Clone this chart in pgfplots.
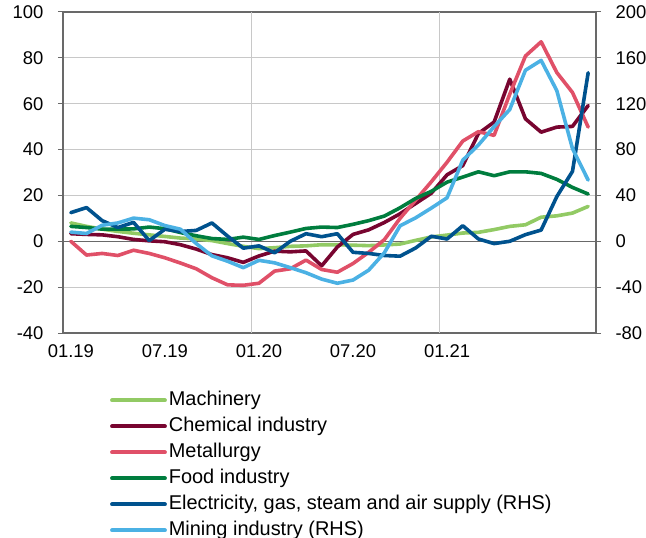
\documentclass[border=0pt]{standalone}
\usepackage{fontspec}
\setmainfont{Liberation Sans}
\usepackage{pgfplots}
\usepackage{pgfplotstable}
\pgfplotsset{compat=1.18}
\definecolor{cMach}{RGB}{146,202,100}
\definecolor{cChem}{RGB}{120,5,48}
\definecolor{cMet}{RGB}{224,80,104}
\definecolor{cFood}{RGB}{0,125,62}
\definecolor{cElec}{RGB}{0,82,142}
\definecolor{cMin}{RGB}{75,177,228}
\definecolor{gridc}{RGB}{200,200,200}
\definecolor{axc}{RGB}{105,105,105}

% left-hand series (x = month index + 0.5, 01.19 = 0.5)
\pgfplotstableread{
x    mach  chem   metal  food
0.5   8.0   3.3    0.0    6.5
1.5   6.5   3.0   -6.0    6.0
2.5   5.3   2.8   -5.3    5.3
3.5   4.3   2.0   -6.2    5.3
4.5   3.5   0.8   -3.9    5.4
5.5   2.8   0.2   -5.3    6.2
6.5   2.1  -0.2   -7.2    5.5
7.5   1.4  -1.5   -9.5    3.8
8.5   1.0  -3.4  -12.0    2.4
9.5   0.3  -5.8  -15.9    1.2
10.5 -1.0  -7.2  -19.0    0.8
11.5 -2.2  -9.2  -19.2    1.8
12.5 -3.2  -6.4  -18.3    0.8
13.5 -2.8  -4.3  -13.0    2.5
14.5 -2.2  -4.6  -12.0    4.0
15.5 -2.0  -4.2   -8.2    5.6
16.5 -1.5 -10.7  -12.3    6.2
17.5 -1.5  -2.5  -13.5    6.0
18.5 -1.7   3.0   -9.7    7.4
19.5 -1.9   5.0   -4.8    9.0
20.5 -1.6   8.2    0.7   11.0
21.5 -1.2  12.0   10.0   14.6
22.5  0.4  16.5   18.0   18.7
23.5  1.9  21.0   26.0   21.8
24.5  2.7  29.0   34.5   25.8
25.5  3.6  33.0   43.7   28.0
26.5  3.9  47.0   47.8   30.3
27.5  5.1  52.0   46.2   28.6
28.5  6.5  70.7   64.2   30.3
29.5  7.2  53.4   80.8   30.3
30.5 10.5  47.6   87.0   29.6
31.5 11.1  49.8   73.6   27.0
32.5 12.3  50.1   64.9   23.5
33.5 15.2  59.2   49.8   20.6
}\leftdata

% right-hand series
\pgfplotstableread{
x    elec   mining
0.5   25.0    8.0
1.5   29.4    6.8
2.5   18.0   14.0
3.5   12.0   16.0
4.5   16.5   20.2
5.5    0.6   18.8
6.5   10.5   13.7
7.5    8.5   10.5
8.5    9.5   -2.0
9.5   16.0  -12.7
10.5   4.5  -17.4
11.5  -6.0  -23.0
12.5  -4.0  -16.6
13.5 -10.0  -18.8
14.5   0.0  -23.0
15.5   6.6  -27.4
16.5   4.0  -33.0
17.5   6.6  -36.6
18.5  -9.6  -33.8
19.5 -10.6  -25.2
20.5 -12.4  -10.0
21.5 -13.0   13.5
22.5  -5.8   20.5
23.5   4.4   29.0
24.5   2.0   38.0
25.5  13.6   70.7
26.5   2.0   84.0
27.5  -2.0  100.0
28.5   0.0  115.0
29.5   5.8  149.2
30.5   9.8  157.8
31.5  39.0  131.4
32.5  61.0   80.8
33.5 147.0   53.4
}\rightdata

\begin{document}
\begin{tikzpicture}
\pgfplotsset{
  every axis/.append style={
    scale only axis, width=533bp, height=321bp,
    xmin=0, xmax=34, at={(0,0)}, anchor=south west,
    axis line style={axc, line width=1.5bp},
    tick align=outside, major tick length=5bp,
    tick label style={font=\fontsize{18.5}{22}\selectfont},
    /pgf/number format/assume math mode=true,
  },
  ser/.style={line width=3.6bp, line join=round, line cap=round},
}
\begin{axis}[
  ymin=-40, ymax=100, ytick={-40,-20,...,100},
  ytick pos=left,
  y tick style={axc, line width=1bp},
  yticklabel style={xshift=-11bp},
  xtick={0.5,6.5,12.5,18.5,24.5},
  xticklabels={01.19,07.19,01.20,07.20,01.21},
  xticklabel style={yshift=-3bp},
  x tick style={draw=none},
  extra x ticks={12,24}, extra x tick labels={},
  extra x tick style={grid=major},
  ymajorgrids,
  grid style={gridc, line width=1bp},
  extra y ticks={0}, extra y tick labels={},
  extra y tick style={grid=major, grid style={axc, line width=1.5bp}},
]
\addplot[ser, cMach] table[x=x, y=mach] {\leftdata};
\addplot[ser, cChem] table[x=x, y=chem] {\leftdata};
\addplot[ser, cMet]  table[x=x, y=metal] {\leftdata};
\addplot[ser, cFood] table[x=x, y=food] {\leftdata};
\end{axis}
\begin{axis}[
  ymin=-80, ymax=200, ytick={-80,-40,...,200},
  axis y line*=right, axis x line=none,
  y tick style={axc, line width=1bp},
  yticklabel style={xshift=11bp},
  legend style={at={(0.088,-0.175)}, anchor=north west, draw=none, fill=none,
    font=\fontsize{20}{24}\selectfont, row sep=4bp, inner sep=0pt,
    nodes={text height=14bp, text depth=4bp},
    cells={anchor=west}},
  legend image code/.code={\draw[#1, line width=3.8bp, line cap=round] (0bp,0bp) -- (53bp,0bp);},
]
\addlegendimage{ser, cMach}\addlegendentry{Machinery}
\addlegendimage{ser, cChem}\addlegendentry{Chemical industry}
\addlegendimage{ser, cMet}\addlegendentry{Metallurgy}
\addlegendimage{ser, cFood}\addlegendentry{Food industry}
\addplot[ser, cElec] table[x=x, y=elec] {\rightdata};
\addlegendentry{Electricity, gas, steam and air supply (RHS)}
\addplot[ser, cMin] table[x=x, y=mining] {\rightdata};
\addlegendentry{Mining industry (RHS)}
\end{axis}
\pgfresetboundingbox
\path[use as bounding box] (-63bp,-205bp) rectangle (583bp,333bp);
\end{tikzpicture}
\end{document}
